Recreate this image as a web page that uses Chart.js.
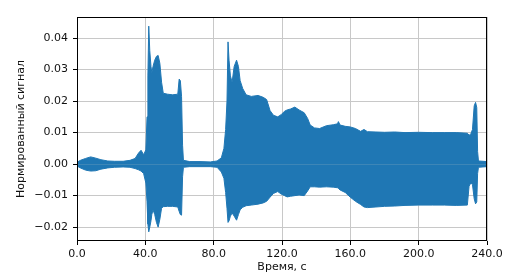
<!DOCTYPE html>
<html>
<head>
<meta charset="utf-8">
<script src="https://cdn.jsdelivr.net/npm/chart.js@4/dist/chart.umd.min.js"></script>
<style>
  html, body { margin: 0; padding: 0; background: #fff; }
  #wrap { width: 512px; height: 280px; position: relative; }
</style>
</head>
<body>
<div id="wrap"><canvas id="c" width="512" height="280"></canvas></div>
<script>
// Time (s) of envelope samples
const timeS = [0, 2, 5, 8, 11, 14, 18, 22, 27, 31, 34, 36, 37.5, 39, 40.3, 41, 41.5, 42.0, 42.6, 43.3, 43.8, 44.5, 45.5, 46.5, 47.5, 48.5, 49.5, 50.5, 53, 56, 59, 59.8, 60.5, 61.2, 61.8, 62.3, 66, 72, 78, 82, 84.5, 86, 87, 87.8, 88.4, 89.0, 89.8, 90.8, 92, 93.4, 94.5, 95.5, 97, 99, 102, 106, 109, 111, 113, 115, 117.5, 119.5, 121.5, 123, 125, 127.5, 130, 133, 135, 136.5, 139, 142, 146, 150, 152.5, 153, 154, 157, 160, 163, 166, 168, 170, 175, 180, 186, 192, 200, 208, 215, 222, 228.5, 229.5, 230.5, 231.5, 232.5, 233.3, 234.0, 234.5, 235, 240];
// Upper envelope of normalised signal
const upperEnv = [0.0006, 0.0012, 0.0018, 0.0023, 0.0019, 0.0014, 0.0010, 0.0009, 0.0009, 0.0012, 0.0018, 0.0035, 0.0044, 0.0030, 0.0045, 0.015, 0.028, 0.0438, 0.036, 0.031, 0.029, 0.031, 0.033, 0.0342, 0.0345, 0.032, 0.026, 0.0225, 0.0222, 0.0220, 0.0222, 0.0270, 0.0265, 0.0215, 0.006, 0.0012, 0.0008, 0.0008, 0.0007, 0.0010, 0.0020, 0.0050, 0.0110, 0.0200, 0.0388, 0.0330, 0.0280, 0.0260, 0.0310, 0.0330, 0.0310, 0.0265, 0.0240, 0.0220, 0.0215, 0.0218, 0.0212, 0.0205, 0.0170, 0.0155, 0.0150, 0.0157, 0.0168, 0.0172, 0.0175, 0.0181, 0.0172, 0.0163, 0.0145, 0.0124, 0.0115, 0.0113, 0.0122, 0.0125, 0.0128, 0.0135, 0.0124, 0.0120, 0.0118, 0.0113, 0.0104, 0.0110, 0.0103, 0.0102, 0.0101, 0.0102, 0.0100, 0.0101, 0.0100, 0.0100, 0.0100, 0.0098, 0.0092, 0.0095, 0.0110, 0.0185, 0.0196, 0.0180, 0.0040, 0.0010, 0.0008];
// Lower envelope of normalised signal
const lowerEnv = [-0.0006, -0.0012, -0.0019, -0.0022, -0.0021, -0.0016, -0.0012, -0.0010, -0.0009, -0.0010, -0.0014, -0.0018, -0.0022, -0.0030, -0.0060, -0.012, -0.019, -0.0215, -0.020, -0.018, -0.016, -0.0145, -0.016, -0.0185, -0.0200, -0.0175, -0.014, -0.0135, -0.0134, -0.0134, -0.0136, -0.0150, -0.0160, -0.0162, -0.004, -0.0010, -0.0008, -0.0008, -0.0008, -0.0010, -0.0025, -0.0045, -0.0090, -0.0140, -0.0185, -0.0180, -0.0165, -0.0155, -0.0165, -0.0178, -0.0160, -0.0145, -0.0137, -0.0132, -0.0130, -0.0127, -0.0123, -0.0118, -0.0105, -0.0093, -0.0087, -0.0095, -0.0100, -0.0104, -0.0102, -0.0100, -0.0098, -0.0100, -0.0085, -0.0072, -0.0072, -0.0073, -0.0072, -0.0073, -0.0075, -0.0077, -0.0082, -0.0090, -0.0105, -0.0118, -0.0128, -0.0136, -0.0138, -0.0136, -0.0134, -0.0133, -0.0131, -0.0130, -0.0130, -0.0130, -0.0131, -0.0130, -0.0070, -0.0060, -0.0065, -0.0110, -0.0126, -0.0120, -0.0030, -0.0010, -0.0008];

const xTicks = [0, 40, 80, 120, 160, 200, 240];
const yTicks = [-0.02, -0.01, 0.00, 0.01, 0.02, 0.03, 0.04];
const xTitle = 'Время, с';
const yTitle = 'Нормированный сигнал';

const C0 = '#1f77b4';
const FONT = { family: 'DejaVu Sans', size: 11 };
const TXT = '#111';

const frame = {
  id: 'frame',
  afterDatasetsDraw(chart) {
    const { ctx, chartArea: a } = chart;
    ctx.save();
    ctx.strokeStyle = '#000';
    ctx.lineWidth = 1;
    ctx.strokeRect(Math.round(a.left) + 0.5, Math.round(a.top) + 0.5,
                   Math.round(a.right - a.left) - 1, Math.round(a.bottom - a.top) - 1);
    ctx.restore();
  }
};

new Chart(document.getElementById('c'), {
  type: 'line',
  data: {
    datasets: [
      {
        data: timeS.map((t, i) => ({ x: t, y: upperEnv[i] })),
        borderColor: C0, backgroundColor: C0, borderWidth: 1,
        fill: 'origin', pointRadius: 0, tension: 0
      },
      {
        data: timeS.map((t, i) => ({ x: t, y: lowerEnv[i] })),
        borderColor: C0, backgroundColor: C0, borderWidth: 1,
        fill: 'origin', pointRadius: 0, tension: 0
      }
    ]
  },
  options: {
    responsive: false,
    animation: false,
    devicePixelRatio: 1,
    layout: { padding: { left: 0, right: 25, top: 17, bottom: 0 } },
    plugins: { legend: { display: false }, tooltip: { enabled: false } },
    scales: {
      x: {
        type: 'linear', min: 0, max: 240,
        afterBuildTicks: s => { s.ticks = xTicks.map(v => ({ value: v })); },
        afterFit: s => { s.height = 39; },
        ticks: { color: TXT, font: FONT, padding: 3, maxRotation: 0,
                 callback: v => Number(v).toFixed(1) },
        grid: { color: '#c8c8c8', lineWidth: 1, tickLength: 4, tickColor: '#000', drawTicks: true },
        border: { display: false },
        title: { display: true, text: xTitle, color: TXT, font: FONT, padding: { top: 6, bottom: 6 } }
      },
      y: {
        type: 'linear', min: -0.0244, max: 0.0467,
        afterBuildTicks: s => { s.ticks = yTicks.map(v => ({ value: v })); },
        afterFit: s => { s.width = 77; },
        ticks: { color: TXT, font: FONT, padding: 5,
                 callback: v => (v < 0 ? '\u2212' : '') + Math.abs(v).toFixed(2) },
        grid: { color: '#c8c8c8', lineWidth: 1, tickLength: 4, tickColor: '#000', drawTicks: true },
        border: { display: false },
        title: { display: true, text: yTitle, color: TXT, font: FONT, padding: 15 }
      }
    }
  },
  plugins: [frame]
});
</script>
</body>
</html>
